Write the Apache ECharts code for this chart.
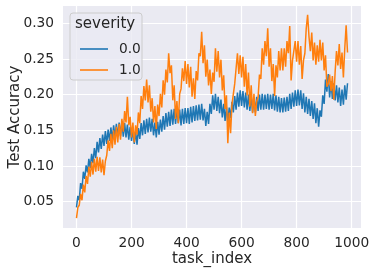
<!DOCTYPE html>
<html><head><meta charset="utf-8">
<script src="https://cdn.jsdelivr.net/npm/echarts@6/dist/echarts.min.js"></script>
<style>html,body{margin:0;padding:0;background:#fff}#c{width:374px;height:275px}</style>
</head><body><div id="c"></div>
<script>
// task_index sampled every 5 steps
const xStep = 5;
const seriesNames = ['0.0', '1.0'];
const xTicks = [0, 200, 400, 600, 800, 1000];
const yTicks = [0.05, 0.10, 0.15, 0.20, 0.25, 0.30];

const sev0 = [
0.042,0.058,0.052,0.076,0.068,0.092,0.082,0.101,0.091,0.110,
0.097,0.117,0.104,0.125,0.111,0.134,0.119,0.139,0.124,0.144,
0.128,0.149,0.131,0.151,0.135,0.154,0.136,0.157,0.140,0.159,
0.141,0.161,0.142,0.163,0.141,0.160,0.140,0.158,0.137,0.155,
0.135,0.152,0.131,0.148,0.130,0.153,0.138,0.160,0.143,0.164,
0.145,0.166,0.147,0.168,0.148,0.166,0.143,0.161,0.140,0.162,
0.144,0.165,0.148,0.170,0.151,0.174,0.155,0.176,0.156,0.179,
0.158,0.180,0.159,0.181,0.160,0.179,0.157,0.180,0.159,0.181,
0.160,0.181,0.159,0.183,0.161,0.184,0.163,0.185,0.164,0.186,
0.165,0.187,0.164,0.180,0.156,0.176,0.159,0.187,0.173,0.199,
0.179,0.201,0.177,0.197,0.174,0.193,0.168,0.187,0.163,0.183,
0.161,0.182,0.167,0.190,0.175,0.198,0.179,0.203,0.183,0.206,
0.184,0.205,0.182,0.203,0.179,0.200,0.177,0.198,0.175,0.196,
0.175,0.197,0.177,0.200,0.179,0.201,0.179,0.200,0.180,0.201,
0.179,0.200,0.180,0.201,0.178,0.199,0.176,0.197,0.175,0.195,
0.175,0.196,0.176,0.197,0.177,0.201,0.180,0.203,0.183,0.206,
0.184,0.207,0.185,0.206,0.180,0.202,0.175,0.197,0.173,0.194,
0.170,0.191,0.166,0.188,0.160,0.181,0.155,0.178,0.169,0.199,
0.187,0.221,0.204,0.229,0.196,0.219,0.194,0.216,0.192,0.213,
0.189,0.210,0.184,0.207,0.186,0.213,0.193,0.216
];
const sev1 = [
0.027,0.042,0.045,0.061,0.052,0.074,0.063,0.086,0.075,0.099,
0.085,0.106,0.088,0.110,0.092,0.113,0.093,0.112,0.091,0.109,
0.087,0.107,0.115,0.136,0.121,0.145,0.125,0.150,0.130,0.155,
0.133,0.159,0.137,0.166,0.148,0.177,0.161,0.197,0.157,0.169,
0.140,0.161,0.133,0.157,0.144,0.175,0.160,0.198,0.180,0.212,
0.192,0.221,0.189,0.213,0.176,0.195,0.161,0.184,0.152,0.186,
0.170,0.201,0.182,0.220,0.200,0.235,0.217,0.258,0.230,0.241,
0.192,0.213,0.166,0.191,0.160,0.201,0.208,0.237,0.219,0.247,
0.215,0.243,0.210,0.239,0.197,0.223,0.194,0.233,0.220,0.258,
0.254,0.288,0.244,0.269,0.225,0.249,0.213,0.235,0.201,0.231,
0.218,0.265,0.232,0.261,0.224,0.249,0.206,0.227,0.180,0.199,
0.132,0.175,0.146,0.186,0.184,0.215,0.215,0.258,0.229,0.255,
0.224,0.253,0.211,0.243,0.199,0.231,0.183,0.213,0.174,0.201,
0.170,0.191,0.196,0.228,0.222,0.265,0.242,0.275,0.254,0.293,
0.239,0.265,0.219,0.243,0.198,0.241,0.224,0.261,0.234,0.265,
0.234,0.265,0.239,0.275,0.258,0.296,0.220,0.248,0.248,0.275,
0.246,0.275,0.242,0.268,0.222,0.248,0.258,0.293,0.312,0.281,
0.261,0.287,0.248,0.273,0.242,0.269,0.246,0.277,0.248,0.273,
0.234,0.255,0.211,0.215,0.228,0.205,0.226,0.193,0.232,0.261,
0.241,0.271,0.236,0.259,0.224,0.265,0.297,0.259
];

function pairs(vals){ return vals.map((v,i)=>[i*xStep, v]); }
const txt = '#262626';
const font = 'DejaVu Sans';
const colors = ['#1f77b4', '#ff7f0e'];
const legendText = {fontSize: 13.75, color: txt, fontFamily: font, padding: [0,0,0,6]};
const chart = echarts.init(document.getElementById('c'), null, {renderer:'canvas'});
chart.setOption({
  animation: false,
  backgroundColor: '#ffffff',
  textStyle: {fontFamily: font, color: txt},
  grid: {left: 63, right: 13, top: 6, bottom: 47, show: true, backgroundColor: '#EAEAF2', borderWidth: 0,
         containLabel: false, outerBoundsMode: 'none'},
  xAxis: {
    type: 'value', min: -49, max: 1034,
    name: 'task_index', nameLocation: 'middle', nameGap: 24, nameMoveOverlap: false,
    nameTextStyle: {fontSize: 15, color: txt, fontFamily: font},
    axisLine: {show: false}, axisTick: {show: false, customValues: xTicks},
    axisLabel: {customValues: xTicks, fontSize: 13.75, color: txt, fontFamily: font, margin: 8,
      formatter: v => String(v)},
    splitLine: {show: true, lineStyle: {color: '#ffffff', width: 1.2}}
  },
  yAxis: {
    type: 'value', min: 0.0131, max: 0.3242,
    name: 'Test Accuracy', nameLocation: 'middle', nameGap: 40, nameMoveOverlap: false,
    nameTextStyle: {fontSize: 15, color: txt, fontFamily: font},
    axisLine: {show: false}, axisTick: {show: false, customValues: yTicks},
    axisLabel: {customValues: yTicks, fontSize: 13.75, color: txt, fontFamily: font, margin: 9,
      formatter: v => v.toFixed(2)},
    splitLine: {show: true, lineStyle: {color: '#ffffff', width: 1.2}}
  },
  legend: [
    {left: 75, top: 37, itemWidth: 28, itemHeight: 1.6, z: 10, icon: 'rect',
     data: [{name: seriesNames[0], itemStyle: {color: colors[0]}}], textStyle: legendText},
    {left: 75, top: 58, itemWidth: 28, itemHeight: 1.6, z: 10, icon: 'rect',
     data: [{name: seriesNames[1], itemStyle: {color: colors[1]}}], textStyle: legendText}
  ],
  graphic: [
    {type: 'rect', left: 69.5, top: 12.5, z: 5,
     shape: {width: 72, height: 67, r: 3},
     style: {fill: 'rgba(234,234,242,0.8)', stroke: '#cccccc', lineWidth: 1}},
    {type: 'text', left: 75, top: 17, z: 11,
     style: {text: 'severity', fontSize: 15, fontFamily: font, fill: txt}}
  ],
  series: [
    {name: seriesNames[0], type: 'line', data: pairs(sev0), symbol: 'none', sampling: null,
     lineStyle: {color: colors[0], width: 1.5}, itemStyle: {color: colors[0]}, z: 2},
    {name: seriesNames[1], type: 'line', data: pairs(sev1), symbol: 'none', sampling: null,
     lineStyle: {color: colors[1], width: 1.5}, itemStyle: {color: colors[1]}, z: 3}
  ]
});
</script></body></html>
